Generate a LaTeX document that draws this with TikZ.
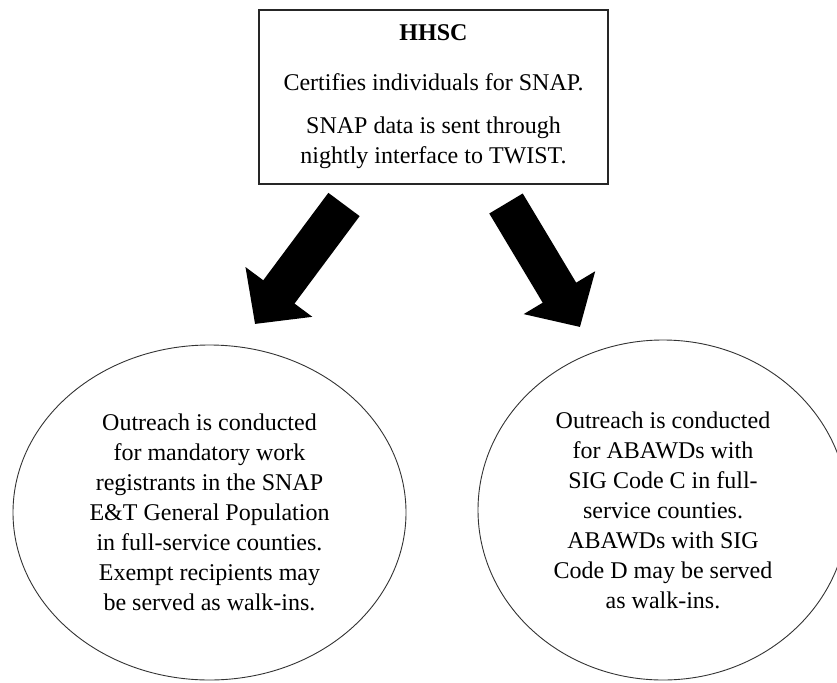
\documentclass[tikz,border=0pt]{standalone}
\usepackage{fontspec}
\setmainfont{Liberation Serif}
\usetikzlibrary{shapes.geometric}
\usetikzlibrary{arrows.meta}
\newcommand{\bodyfont}{\fontsize{24}{30}\selectfont}
\tikzset{box/.style={draw=#1,line width=1.4pt,minimum width=349pt,minimum height=174pt,inner sep=0pt,align=center},box/.default=black!85}
\tikzset{bubble/.style={draw=#1,ellipse,line width=0.9pt,inner sep=0pt,align=center},bubble/.default=black!80}
\tikzset{bigarrow/.style={color=#1,line width=39pt,-{Triangle[width=81pt 0 1,length=40pt 0 1]}},bigarrow/.default=black}

\begin{document}
\begin{tikzpicture}[x=1pt,y=-1pt,font=\bodyfont]
		\useasboundingbox (0,0) rectangle (837,682);

		\node [box] (hhsc) at (433.5,97) {\textbf{HHSC}\\[20pt]
			Certifies individuals for SNAP.\\[13pt]
			SNAP data is sent through\\
			nightly interface to TWIST.};

		\node [bubble,minimum width=393pt,minimum height=335pt] (general) at (209.5,512.5) {%
			Outreach is conducted\\
			for mandatory work\\
			registrants in the SNAP\\
			E\&T General Population\\
			in full-service counties.\\
			Exempt recipients may\\
			be served as walk-ins.};
		\node [bubble,minimum width=370pt,minimum height=340pt] (abawd) at (663,510) {%
			Outreach is conducted\\
			for ABAWDs with\\
			SIG Code C in full-\\
			service counties.\\
			ABAWDs with SIG\\
			Code D may be served\\
			as walk-ins.};

		\coordinate (lefttail) at (344,204.5);
		\coordinate (lefttip) at (255,324);
		\coordinate (righttail) at (506,203.5);
		\coordinate (righttip) at (580,327);
		\draw [bigarrow] (lefttail) -- (lefttip);
		\draw [bigarrow] (righttail) -- (righttip);
	\end{tikzpicture}
\end{document}
